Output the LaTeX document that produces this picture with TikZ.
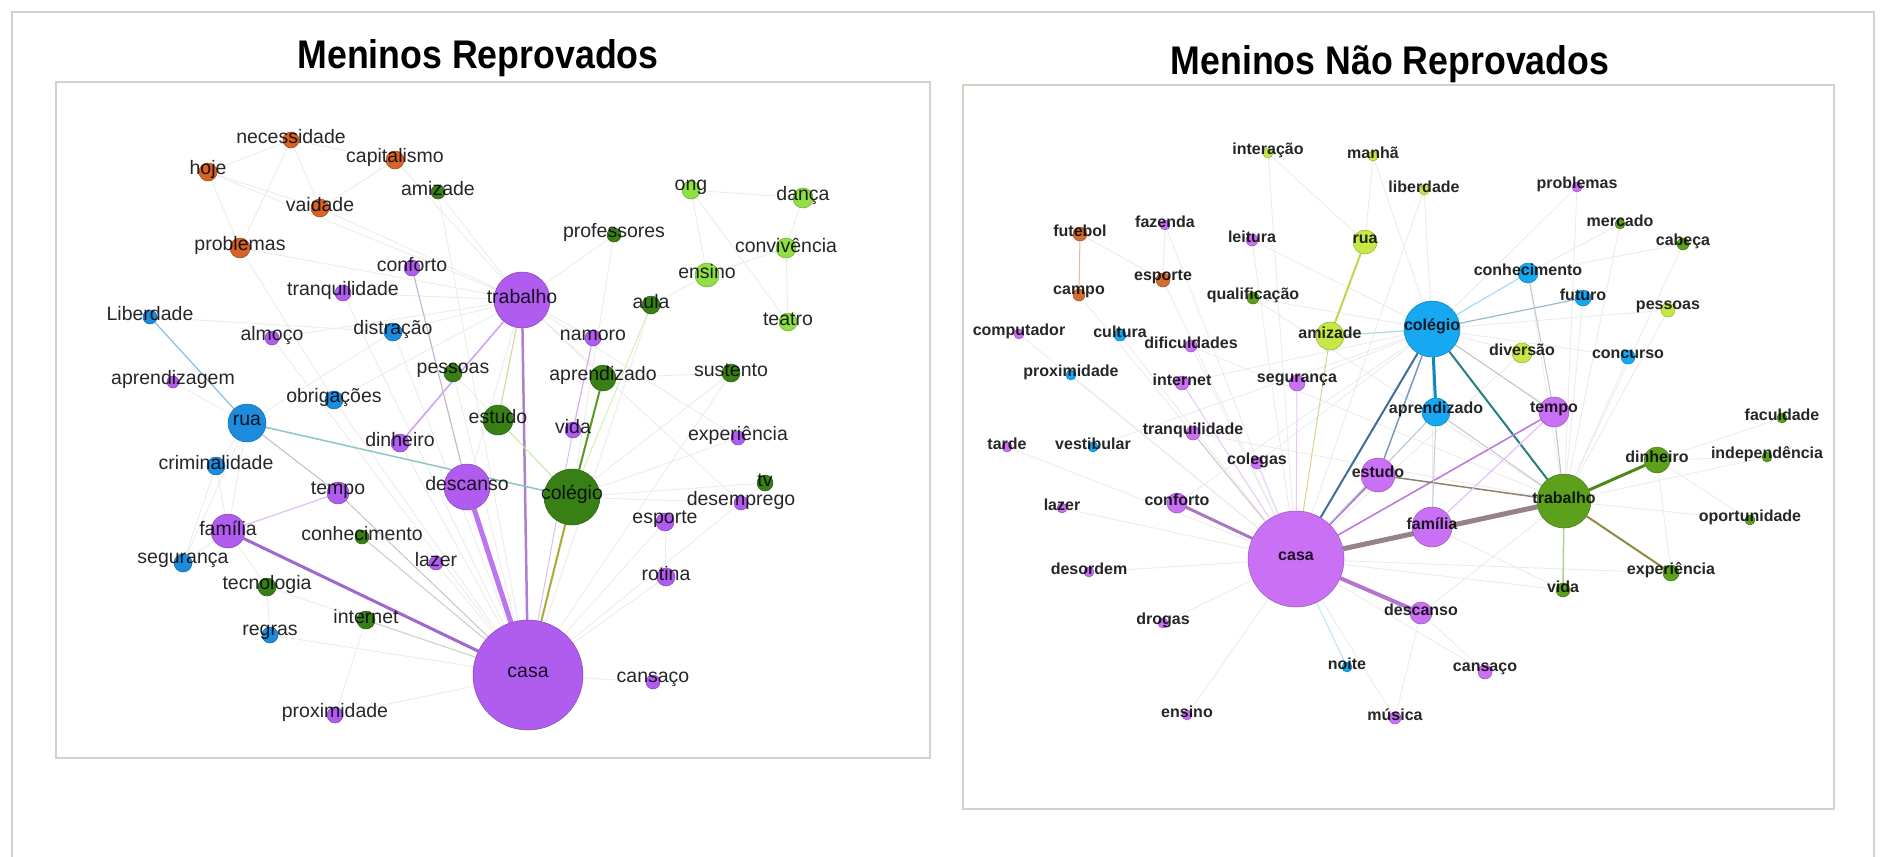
\documentclass[tikz,border=0pt]{standalone}
\usepackage{fontspec}
\setmainfont{Liberation Sans}
\usepackage{graphicx}

\definecolor{lpurple}{RGB}{176,92,238}
\definecolor{lorange}{RGB}{214,100,40}
\definecolor{lblue}{RGB}{30,140,220}
\definecolor{ldgreen}{RGB}{56,128,22}
\definecolor{llgreen}{RGB}{145,222,70}
\definecolor{rpurple}{RGB}{202,112,245}
\definecolor{rblue}{RGB}{22,168,240}
\definecolor{rgreen}{RGB}{92,160,28}
\definecolor{rygreen}{RGB}{198,232,70}
\definecolor{rorange}{RGB}{210,110,50}
\definecolor{framegray}{RGB}{210,210,200}
\definecolor{steel}{RGB}{60,110,160}
\definecolor{ecasatrab}{RGB}{150,130,135}

\pgfdeclarelayer{background}
\pgfsetlayers{background,main}

\begin{document}
\begin{tikzpicture}[x=1pt, y=-1pt,
    vert/.style={circle, inner sep=0pt, fill=#1, draw=#1!75!black, line width=0.5pt},
    llbl/.style={font=\fontsize{19.5}{20}\selectfont, text=black, text opacity=0.85, inner sep=0pt, yshift=3pt},
    rlbl/.style={font=\fontsize{16}{17}\selectfont\bfseries, text=black, text opacity=0.85, inner sep=0pt, yshift=3pt},
    faint/.style={gray!16, line width=0.8pt},
    panel/.style={draw=framegray, line width=1.8pt, fill=white},
    titulo/.style={font=\fontsize{35.7}{36}\selectfont\bfseries, anchor=base}]
    \useasboundingbox (0,0) rectangle (1883,857);

    % Titulos
    \node[titulo] (tituloL) at (478,68) {\scalebox{1}[1.12]{Meninos Reprovados}};
    \node[titulo] (tituloR) at (1390,74) {\scalebox{1}[1.12]{Meninos Não Reprovados}};

    % Meninos reprovados
    \foreach \n/\x/\y/\d/\c/\t in {
        Lnec/291/140/16/lorange/necessidade, Lhoje/208/172/18/lorange/hoje,
        Lcapit/395/160/18/lorange/capitalismo, Lamiz/438/192/14/ldgreen/amizade,
        Lvaid/320/208/18/lorange/vaidade, Lprobl/240/248/20/lorange/problemas,
        Lconf/412/268/16/lpurple/conforto, Ltranq/343/293/16/lpurple/tranquilidade,
        Ltrab/522/300/56/lpurple/trabalho, Lliber/150/317/14/lblue/Liberdade,
        Lalmoco/272/338/14/lpurple/almoço, Ldistr/393/332/18/lblue/distração,
        Laprendiz/173/382/12/lpurple/aprendizagem, Lpess/453/373/18/ldgreen/pessoas,
        Lobrig/334/400/18/lblue/obrigações, Lrua/247/423/38/lblue/rua,
        Lestudo/498/420/30/ldgreen/estudo, Ldinh/400/443/18/lpurple/dinheiro,
        Long/691/190/18/llgreen/ong, Ldanca/803/198/20/llgreen/dança,
        Lprof/614/235/14/ldgreen/professores, Lconviv/786/248/20/llgreen/convivência,
        Lensino/707/275/24/llgreen/ensino, Laula/651/305/18/ldgreen/aula,
        Lteatro/788/322/18/llgreen/teatro, Lnamoro/593/338/16/lpurple/namoro,
        Laprend/603/378/26/ldgreen/aprendizado, Lsust/731/373/18/ldgreen/sustento,
        Lvida/573/430/16/lpurple/vida, Lexper/738/438/14/lpurple/experiência,
        Lcolegio/572/497/56/ldgreen/colégio, Ldesc/467/487/46/lpurple/descanso,
        Ltv/765/483/16/ldgreen/tv, Ldesemp/741/503/14/lpurple/desemprego,
        Lesporte/665/522/18/lpurple/esporte, Lrotina/666/577/18/lpurple/rotina,
        Lcasa/528/675/110/lpurple/casa, Lcansaco/653/682/14/lpurple/cansaço,
        Lcrim/216/466/18/lblue/criminalidade, Ltempo/338/493/22/lpurple/tempo,
        Lfamilia/228/531/34/lpurple/família, Lconhec/362/537/14/ldgreen/conhecimento,
        Llazer/436/563/14/lpurple/lazer, Lseg/183/563/18/lblue/segurança,
        Ltecno/267/587/18/ldgreen/tecnologia, Linternet/366/620/18/ldgreen/internet,
        Lregras/270/635/16/lblue/regras, Lprox/335/715/16/lpurple/proximidade}
        \node[vert=\c, minimum size=\d, label={[llbl]center:\t}] (\n) at (\x,\y) {};

    % Meninos nao reprovados
    \foreach \n/\x/\y/\d/\c/\t in {
        Rinter/1268/153/10/rygreen/interação, Rmanha/1373/156/10/rygreen/manhã,
        Rliber/1424/190/10/rygreen/liberdade, Rprobl/1577/187/10/rpurple/problemas,
        Rfutebol/1080/234/14/rorange/futebol, Rfazenda/1165/225/10/rpurple/fazenda,
        Rleitura/1252/240/12/rpurple/leitura, Rrua/1365/242/24/rygreen/rua,
        Rmerc/1620/224/10/rgreen/mercado, Rcabeca/1683/244/12/rgreen/cabeça,
        Resporte/1163/280/14/rorange/esporte, Rcampo/1079/295/12/rorange/campo,
        Rqualif/1253/298/12/rgreen/qualificação, Rconhec/1528/273/20/rblue/conhecimento,
        Rfuturo/1583/298/16/rblue/futuro, Rpess/1668/310/14/rygreen/pessoas,
        Rcomput/1019/334/10/rpurple/computador, Rcultura/1120/335/12/rblue/cultura,
        Rdific/1191/346/12/rpurple/dificuldades, Ramiz/1330/336/28/rygreen/amizade,
        Rcolegio/1432/329/56/rblue/colégio, Rdivers/1522/353/20/rygreen/diversão,
        Rconcurso/1628/357/14/rblue/concurso, Rprox/1071/375/10/rblue/proximidade,
        Rinternet/1182/383/14/rpurple/internet, Rseg/1297/383/16/rpurple/segurança,
        Raprend/1436/412/28/rblue/aprendizado, Rtempo/1554/412/30/rpurple/tempo,
        Rfacul/1782/418/10/rgreen/faculdade, Rtranq/1193/433/14/rpurple/tranquilidade,
        Rtarde/1007/447/10/rpurple/tarde, Rvestib/1093/447/10/rblue/vestibular,
        Rdinh/1657/460/26/rgreen/dinheiro, Rindep/1767/457/10/rgreen/independência,
        Rcolegas/1257/463/12/rpurple/colegas, Restudo/1378/475/34/rpurple/estudo,
        Rtrab/1564/501/54/rgreen/trabalho, Rconf/1177/503/20/rpurple/conforto,
        Rlazer/1062/508/10/rpurple/lazer, Rfamilia/1432/527/40/rpurple/família,
        Roport/1750/520/10/rgreen/oportunidade, Rcasa/1296/559/96/rpurple/casa,
        Rdesord/1089/572/10/rpurple/desordem, Rexper/1671/573/16/rgreen/experiência,
        Rvida/1563/590/14/rgreen/vida, Rdesc/1421/613/22/rpurple/descanso,
        Rdrogas/1163/623/10/rpurple/drogas, Rnoite/1347/667/10/rblue/noite,
        Rcansaco/1485/672/14/rpurple/cansaço, Rensino/1187/715/10/rpurple/ensino,
        Rmusica/1395/718/12/rpurple/música}
        \node[vert=\c, minimum size=\d, label={[rlbl]center:\t}] (\n) at (\x,\y) {};

    \begin{pgfonlayer}{background}
    % Molduras
    \draw[framegray, line width=1.2pt] (12,12) rectangle (1874,900);
    \draw[panel] (56,82) rectangle (930,758);
    \draw[panel] (963,85) rectangle (1834,809);

    % Arestas fracas
    \foreach \a/\b in {Lhoje/Lnec, Lhoje/Lvaid, Lhoje/Lprobl, Lnec/Lvaid, Lnec/Lcapit,
        Lcapit/Lvaid, Lnec/Lprobl, Lcapit/Ltrab, Lvaid/Ltrab, Lhoje/Ltrab, Lprobl/Ltrab,
        Lprobl/Lobrig, Lamiz/Ltrab, Lamiz/Lcasa, Long/Ldanca, Long/Lensino, Ldanca/Lconviv,
        Lconviv/Lensino, Lconviv/Lteatro, Long/Lteatro, Lensino/Laula, Lprof/Lcolegio,
        Lprof/Ltrab, Lsust/Lcolegio, Lsust/Lcasa, Lexper/Lcolegio, Lexper/Ltrab,
        Ltv/Lcolegio, Ldesemp/Lcolegio, Ldesemp/Ltrab, Lesporte/Lcasa, Lrotina/Lcasa,
        Lesporte/Lrotina, Lcansaco/Lcasa, Lnamoro/Ltrab, Ltranq/Lcasa, Ltranq/Ltrab,
        Lalmoco/Lcasa, Ldistr/Lcasa, Ldistr/Ltrab, Ldistr/Lrua, Lobrig/Lcasa, Lobrig/Ltrab,
        Laprendiz/Lrua, Lcrim/Lrua, Lcrim/Lseg, Lseg/Lfamilia, Lseg/Lrua, Lregras/Ltecno,
        Ltecno/Lcasa, Lregras/Lcasa, Lprox/Lcasa, Llazer/Lcasa, Ldinh/Lcasa, Lpess/Lcasa,
        Lpess/Lcolegio, Laprend/Lcasa, Laprend/Ltrab, Ldesc/Ltrab, Lliber/Ldistr,
        Lalmoco/Ltrab, Lcrim/Lfamilia, Lfamilia/Lrua, Ltecno/Lfamilia, Lsust/Laprend,
        Lprox/Linternet, Laula/Lcasa, Ltv/Lcasa,
        Rinter/Rcasa, Rinter/Rrua, Rmanha/Rcolegio, Rmanha/Rrua, Rliber/Rcolegio,
        Rliber/Rcasa, Rprobl/Rtrab, Rprobl/Rcolegio, Rfazenda/Rcasa, Rfazenda/Resporte,
        Rleitura/Rcasa, Rleitura/Rcolegio, Rfutebol/Resporte, Resporte/Rcasa, Rcampo/Rcasa,
        Rqualif/Rtrab, Rqualif/Rcolegio, Rmerc/Rtrab, Rmerc/Rconhec, Rcabeca/Rtrab,
        Rcabeca/Rconhec, Rpess/Rtrab, Rpess/Rcolegio, Rconcurso/Rcolegio, Rconcurso/Rtrab,
        Rdivers/Rcolegio, Rdivers/Rcasa, Rcomput/Rcasa, Rcultura/Rcasa, Rdific/Rcasa,
        Rdific/Rtrab, Rprox/Rcasa, Rtarde/Rcasa, Rvestib/Rcolegio, Rlazer/Rcasa,
        Rdesord/Rcasa, Rdrogas/Rcasa, Rensino/Rcasa, Rmusica/Rcasa, Rmusica/Rdesc,
        Rcansaco/Rcasa, Rcansaco/Rdesc, Rfacul/Rdinh, Rindep/Rdinh, Rindep/Rtrab,
        Roport/Rtrab, Roport/Rdinh, Rexper/Rdinh, Rvida/Rfamilia, Rfamilia/Rcolegio,
        Rconhec/Rtrab, Rfuturo/Rtrab, Rdesc/Rtrab, Rseg/Rcolegio, Rinternet/Rcolegio,
        Rtranq/Rtrab, Rcolegas/Rcolegio, Rconf/Rcolegio, Rvida/Rcasa, Rexper/Rcasa}
        \draw[faint] (\a) -- (\b);

    % Arestas fortes: reprovados
    \draw[line width=5pt, lpurple!85!white] (Lcasa) -- (Ldesc);
    \draw[line width=3pt, lpurple!70!gray] (Lcasa) -- (Lfamilia);
    \draw[line width=2.5pt, lpurple!65!gray!85] (Lcasa) -- (Ltrab);
    \draw[line width=2pt, olive!70!white] (Lcasa) -- (Lcolegio);
    \draw[line width=2pt, ldgreen!70!llgreen] (Lcolegio) -- (Laprend);
    \draw[line width=1.5pt, teal!45!white] (Lrua) -- (Lcolegio);
    \draw[line width=1.5pt, lpurple!60!white] (Ltrab) -- (Ldinh);
    \draw[line width=1.2pt, olive!30!white] (Ltrab) -- (Lestudo);
    \draw[line width=1.2pt, lpurple!35!gray!50] (Lconf) -- (Ldesc);
    \draw[line width=1.2pt, lpurple!50!white] (Lnamoro) -- (Lvida);
    \draw[line width=1pt, lpurple!40!white] (Lvida) -- (Lcasa);
    \draw[line width=1.2pt, lblue!55!white] (Lrua) -- (Lliber);
    \draw[line width=1pt, gray!50] (Lrua) -- (Ltempo);
    \draw[line width=1.2pt, lpurple!40!white] (Lfamilia) -- (Ltempo);
    \draw[line width=1pt, gray!45] (Ltempo) -- (Lcasa);
    \draw[line width=1pt, gray!40] (Lconhec) -- (Lcasa);
    \draw[line width=1pt, llgreen!50!white] (Lestudo) -- (Lcolegio);
    \draw[line width=1pt, llgreen!40!white] (Laula) -- (Lcolegio);
    \draw[line width=1pt, ldgreen!30!white] (Linternet) -- (Lcasa);

    % Arestas fortes: nao reprovados
    \draw[line width=5pt, ecasatrab] (Rcasa) -- (Rtrab);
    \draw[line width=4pt, rpurple!70!gray] (Rcasa) -- (Rdesc);
    \draw[line width=3pt, rpurple!55!gray] (Rcasa) -- (Rconf);
    \draw[line width=2pt, steel] (Rcasa) -- (Rcolegio);
    \draw[line width=1.5pt, steel!70!white] (Rcolegio) -- (Restudo);
    \draw[line width=3pt, rblue!80!black] (Rcolegio) -- (Raprend);
    \draw[line width=2pt, teal!70!gray] (Rcolegio) -- (Rtrab);
    \draw[line width=1.2pt, rblue!40!white] (Rcolegio) -- (Rconhec);
    \draw[line width=1.2pt, rblue!35!gray!60] (Rcolegio) -- (Rfuturo);
    \draw[line width=1.2pt, teal!30!white] (Rcolegio) -- (Ramiz);
    \draw[line width=1pt, gray!50] (Rcolegio) -- (Rtempo);
    \draw[line width=2pt, rpurple!70!gray] (Rcasa) -- (Restudo);
    \draw[line width=1.5pt, rpurple!80!gray] (Rcasa) -- (Rtempo);
    \draw[line width=1pt, rblue!30!gray!50] (Rcasa) -- (Raprend);
    \draw[line width=1.5pt, brown!30!gray] (Restudo) -- (Rtrab);
    \draw[line width=3pt, rgreen!85!black] (Rtrab) -- (Rdinh);
    \draw[line width=2pt, olive!50!gray] (Rtrab) -- (Rexper);
    \draw[line width=1.5pt, rgreen!50!white] (Rtrab) -- (Rvida);
    \draw[line width=1pt, gray!50] (Rtrab) -- (Rtempo);
    \draw[line width=1pt, gray!45] (Rtrab) -- (Raprend);
    \draw[line width=2pt, rygreen!85!gray] (Rrua) -- (Ramiz);
    \draw[line width=1pt, olive!35!white] (Ramiz) -- (Rcasa);
    \draw[line width=1pt, rpurple!40!white] (Rseg) -- (Rcasa);
    \draw[line width=1pt, rpurple!40!white] (Rinternet) -- (Rcasa);
    \draw[line width=1pt, gray!40] (Rtranq) -- (Rcasa);
    \draw[line width=1pt, rpurple!30!white] (Rcolegas) -- (Rcasa);
    \draw[line width=1.2pt, rpurple!45!white] (Rtempo) -- (Rfamilia);
    \draw[line width=1pt, gray!45] (Rconhec) -- (Rtempo);
    \draw[line width=1pt, gray!40] (Raprend) -- (Rfamilia);
    \draw[line width=1pt, rorange!50!white] (Rfutebol) -- (Rcampo);
    \draw[line width=1pt, rblue!30!white] (Rnoite) -- (Rcasa);
    \end{pgfonlayer}
\end{tikzpicture}
\end{document}
